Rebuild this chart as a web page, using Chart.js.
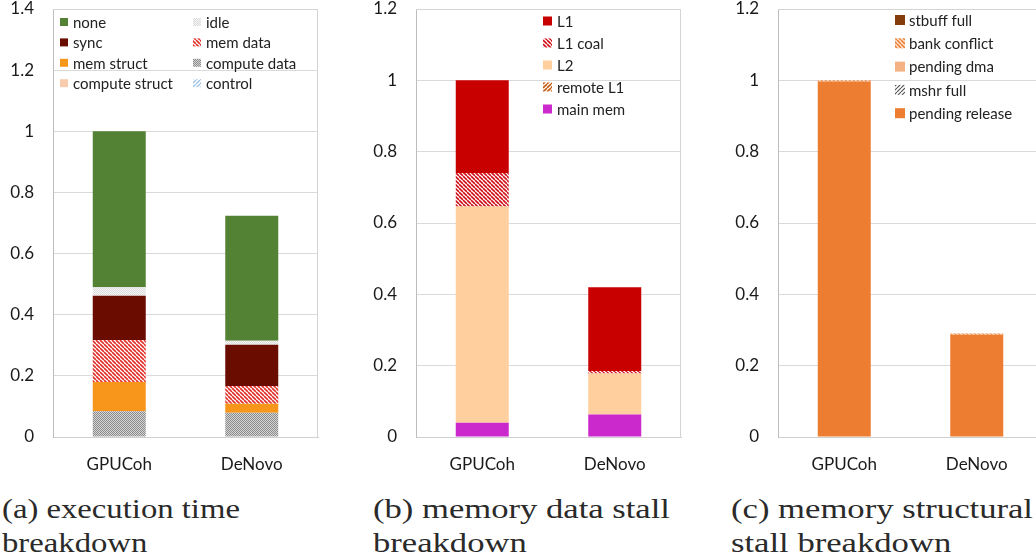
<!DOCTYPE html>
<html><head><meta charset="utf-8">
<script src="https://cdn.jsdelivr.net/npm/chart.js@4/dist/chart.umd.min.js"></script>
<style>
html,body{margin:0;padding:0;background:#fff;width:1036px;height:560px;overflow:hidden;position:relative;}
.cv{position:absolute;top:0;}
.cap{position:absolute;font-family:"Liberation Serif",serif;font-size:28px;color:#2a2a2a;white-space:nowrap;transform-origin:0 0;line-height:34px;}
</style></head>
<body>
<div class="cv" style="left:0;width:330px;height:480px"><canvas id="ca"></canvas></div>
<div class="cv" style="left:363px;width:330px;height:480px"><canvas id="cb"></canvas></div>
<div class="cv" style="left:725px;width:318px;height:480px"><canvas id="cc"></canvas></div>
<div class="cap" id="capA" style="left:2px;top:492px" data-w="238">(a) execution time<br>breakdown</div>
<div class="cap" id="capB" style="left:373px;top:492px" data-w="297">(b) memory data stall<br>breakdown</div>
<div class="cap" id="capC" style="left:731px;top:492px" data-w="302">(c) memory structural<br>stall breakdown</div>
<script>
// ---- data ----
const categories = ['GPUCoh', 'DeNovo'];
const yTicksA = ['0', '0.2', '0.4', '0.6', '0.8', '1', '1.2', '1.4'];
const yTicksBC = ['0', '0.2', '0.4', '0.6', '0.8', '1', '1.2'];

// (a) execution time breakdown
const controlA       = [0, 0];
const computeStructA = [0, 0];
const computeDataA   = [0.084, 0.079];
const memStructA     = [0.096, 0.030];
const memDataA       = [0.137, 0.058];
const syncA          = [0.145, 0.135];
const idleA          = [0.028, 0.013];
const noneA          = [0.510, 0.409];

// (b) memory data stall breakdown
const mainMemB  = [0.040, 0.063];
const remoteL1B = [0, 0];
const l2B       = [0.606, 0.115];
const l1CoalB   = [0.094, 0.007];
const l1B       = [0.260, 0.235];

// (c) memory structural stall breakdown
const pendingReleaseC = [0.997, 0.287];
const mshrFullC       = [0, 0];
const pendingDmaC     = [0, 0];
const bankConflictC   = [0.003, 0.003];
const stbuffFullC     = [0, 0];

// ---- patterns ----
function tileCanvas(s){const c=document.createElement('canvas');c.width=s;c.height=s;return c;}
function stripes(fg,bg,dir,s,lw){
  const c=tileCanvas(s),x=c.getContext('2d');
  x.fillStyle=bg;x.fillRect(0,0,s,s);
  x.strokeStyle=fg;x.lineWidth=lw;
  for(const o of [-s,0,s]){
    x.beginPath();
    if(dir==='\\'){x.moveTo(o,0);x.lineTo(o+s,s);}else{x.moveTo(o,s);x.lineTo(o+s,0);}
    x.stroke();
  }
  return x.createPattern(c,'repeat');
}
function dots(a,b){
  const c=tileCanvas(4),x=c.getContext('2d');
  x.fillStyle=b;x.fillRect(0,0,4,4);
  x.fillStyle=a;
  for(let i=0;i<4;i++)for(let j=0;j<4;j++){if((i+j)%2===0)x.fillRect(i,j,1,1);}
  return x.createPattern(c,'repeat');
}

const pMemData = stripes('#e0302a','#ffffff','\\',4,1.6);
const pComputeData = dots('#8c8c8c','#d4d4d4');
const pIdle = dots('#dcdcdc','#f4f4f4');
const pControl = stripes('#9dc3e6','#ffffff','/',4,1.3);
const pL1Coal = stripes('#d0101a','#ffffff','\\',4,1.6);
const pRemoteL1 = stripes('#c55a11','#ffffff','/',4,1.6);
const pBank = stripes('#ed7d31','#fbe0cc','\\',4,1.5);
const pMshr = stripes('#555555','#ffffff','/',4,1.2);

// ---- plugins ----
const areaBorder = {
  id:'areaBorder',
  beforeDatasetsDraw(chart){
    const {ctx,chartArea:a}=chart;
    ctx.save();ctx.strokeStyle='#d4d4d4';ctx.lineWidth=1;
    ctx.beginPath();
    ctx.moveTo(a.left,a.top+0.5);ctx.lineTo(a.right-0.5,a.top+0.5);ctx.lineTo(a.right-0.5,a.bottom);
    ctx.stroke();ctx.restore();
  }
};
const boxLegend = {
  id:'boxLegend',
  afterDraw(chart,args,opt){
    const ctx=chart.ctx;
    const ds=chart.data.datasets.slice().reverse();
    ctx.save();
    ctx.font=opt.font;ctx.textBaseline='middle';ctx.fillStyle='#222';
    ds.forEach((d,i)=>{
      const col=i%opt.cols,row=Math.floor(i/opt.cols);
      const x=opt.x+col*opt.colW, y=opt.y+row*opt.rowH;
      ctx.fillStyle=d.backgroundColor;
      ctx.fillRect(x,y-opt.box/2,opt.box,opt.box);
      ctx.fillStyle='#222';
      ctx.fillText(d.label,x+opt.box+opt.gap,y+1);
    });
    ctx.restore();
  }
};

function makeChart(id,datasets,yMax,yTicks,legend,padRight){
  return new Chart(document.getElementById(id),{
    type:'bar',
    data:{labels:categories,datasets:datasets.map(d=>Object.assign({borderWidth:0,categoryPercentage:1,barPercentage:0.4},d))},
    options:{
      responsive:true,maintainAspectRatio:false,animation:false,
      layout:{padding:{top:9,right:padRight,left:0,bottom:0}},
      plugins:{legend:{display:false},tooltip:{enabled:false},boxLegend:legend},
      scales:{
        x:{stacked:true,
           grid:{display:false,drawTicks:false},
           border:{color:'#d0d0d0'},
           ticks:{padding:17,color:'#1a1a1a',font:{family:'Lato',size:17}},
           afterFit(s){s.height=43;s.paddingLeft=0;s.paddingRight=0;}},
        y:{stacked:true,min:0,max:yMax,
           ticks:{stepSize:0.2,padding:19,color:'#1a1a1a',font:{family:'Lato',size:17},
                  callback:(v,i)=>yTicks[i]},
           grid:{color:'#dadada',drawTicks:false},
           border:{color:'#bdbdbd'},
           afterFit(s){s.width=53;s.paddingTop=0;s.paddingBottom=0;}}
      }
    },
    plugins:[areaBorder,boxLegend]
  });
}

makeChart('ca',[
  {label:'control',data:controlA,backgroundColor:pControl},
  {label:'compute struct',data:computeStructA,backgroundColor:'#f8cbad'},
  {label:'compute data',data:computeDataA,backgroundColor:pComputeData},
  {label:'mem struct',data:memStructA,backgroundColor:'#f7961a'},
  {label:'mem data',data:memDataA,backgroundColor:pMemData},
  {label:'sync',data:syncA,backgroundColor:'#6b0c00'},
  {label:'idle',data:idleA,backgroundColor:pIdle},
  {label:'none',data:noneA,backgroundColor:'#548235'}
],1.4,yTicksA,{x:60,y:22,cols:2,colW:133,rowH:20.4,box:8,gap:5,font:'15px Lato'},12);

makeChart('cb',[
  {label:'main mem',data:mainMemB,backgroundColor:'#cc29cc'},
  {label:'remote L1',data:remoteL1B,backgroundColor:pRemoteL1},
  {label:'L2',data:l2B,backgroundColor:'#ffd09d'},
  {label:'L1 coal',data:l1CoalB,backgroundColor:pL1Coal},
  {label:'L1',data:l1B,backgroundColor:'#c80000'}
],1.2,yTicksBC,{x:543-363,y:21,cols:1,colW:0,rowH:22,box:9,gap:5,font:'15px Lato'},12);

makeChart('cc',[
  {label:'pending release',data:pendingReleaseC,backgroundColor:'#ed7d31'},
  {label:'mshr full',data:mshrFullC,backgroundColor:pMshr},
  {label:'pending dma',data:pendingDmaC,backgroundColor:'#f4b183'},
  {label:'bank conflict',data:bankConflictC,backgroundColor:pBank},
  {label:'stbuff full',data:stbuffFullC,backgroundColor:'#843c0c'}
],1.2,yTicksBC,{x:895-725,y:20,cols:1,colW:0,rowH:23.3,box:10,gap:4,font:'15px Lato'},0);

// captions: stretch serif text horizontally to mimic Computer Modern widths
document.querySelectorAll('.cap').forEach(el=>{
  const w=el.getBoundingClientRect().width;
  const t=parseFloat(el.dataset.w);
  el.style.transform='scaleX('+(t/w).toFixed(3)+')';
});
</script>
</body></html>
